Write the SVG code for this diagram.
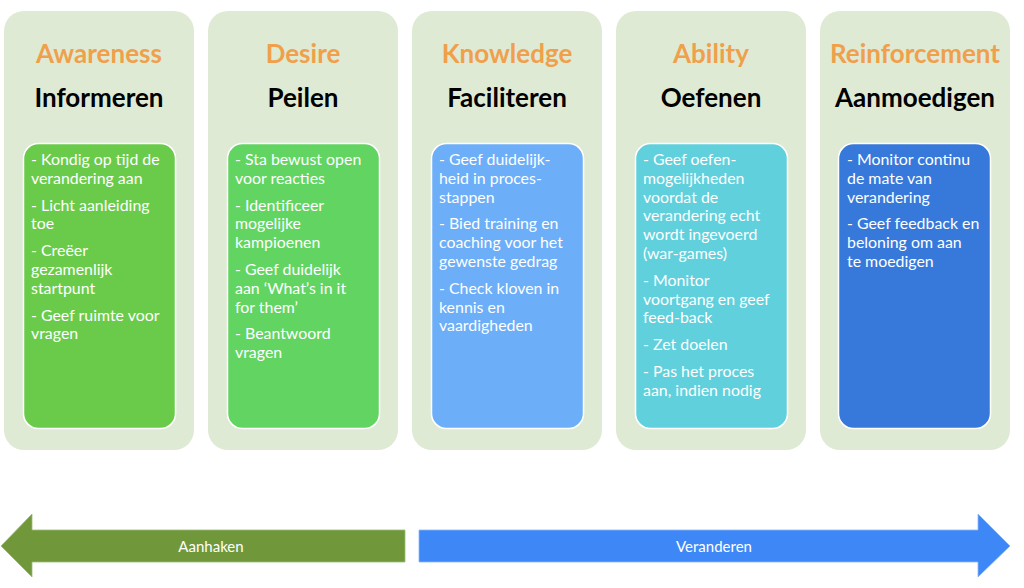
<svg xmlns="http://www.w3.org/2000/svg" width="1024" height="588" viewBox="0 0 1024 588">
<style>
.outer{fill:#DFEAD4}
.inner{stroke:#FFFFFF;stroke-width:1.5}
.t1{font-family:Lato,"Open Sans",sans-serif;font-weight:700;font-size:26px;fill:#F0A04B;text-anchor:middle}
.t2{font-family:Lato,"Open Sans",sans-serif;font-weight:700;font-size:26px;fill:#000000;text-anchor:middle}
.body{font-family:Lato,"Open Sans",sans-serif;font-size:15.9px;fill:#FFFFFF}
.lbl{font-family:Lato,"Open Sans",sans-serif;font-size:15px;fill:#FFFFFF;text-anchor:middle}
</style>
<rect width="1024" height="588" fill="#FFFFFF"/>
<g id="awareness">
<rect class="outer" x="4" y="11" width="190" height="439" rx="20"/>
<text class="t1" x="99" y="63">Awareness</text>
<text class="t2" x="99" y="107">Informeren</text>
<rect class="inner" x="23.5" y="143.5" width="152" height="285" rx="15" fill="#6ACB4B"/>
<text class="body" y="165"><tspan x="31">- Kondig op tijd de</tspan><tspan x="31" dy="18.8">verandering aan</tspan><tspan x="31" dy="26.8">- Licht aanleiding</tspan><tspan x="31" dy="18.8">toe</tspan><tspan x="31" dy="26.8">- Creëer</tspan><tspan x="31" dy="18.8">gezamenlijk</tspan><tspan x="31" dy="18.8">startpunt</tspan><tspan x="31" dy="26.8">- Geef ruimte voor</tspan><tspan x="31" dy="18.8">vragen</tspan></text>
</g>
<g id="desire">
<rect class="outer" x="208" y="11" width="190" height="439" rx="20"/>
<text class="t1" x="303" y="63">Desire</text>
<text class="t2" x="303" y="107">Peilen</text>
<rect class="inner" x="227.5" y="143.5" width="152" height="285" rx="15" fill="#62D462"/>
<text class="body" y="165"><tspan x="235">- Sta bewust open</tspan><tspan x="235" dy="18.8">voor reacties</tspan><tspan x="235" dy="26.8">- Identificeer</tspan><tspan x="235" dy="18.8">mogelijke</tspan><tspan x="235" dy="18.8">kampioenen</tspan><tspan x="235" dy="26.8">- Geef duidelijk</tspan><tspan x="235" dy="18.8">aan ‘What’s in it</tspan><tspan x="235" dy="18.8">for them’</tspan><tspan x="235" dy="26.8">- Beantwoord</tspan><tspan x="235" dy="18.8">vragen</tspan></text>
</g>
<g id="knowledge">
<rect class="outer" x="412" y="11" width="190" height="439" rx="20"/>
<text class="t1" x="507" y="63">Knowledge</text>
<text class="t2" x="507" y="107">Faciliteren</text>
<rect class="inner" x="431.5" y="143.5" width="152" height="285" rx="15" fill="#6CAEF7"/>
<text class="body" y="165"><tspan x="439">- Geef duidelijk-</tspan><tspan x="439" dy="18.8">heid in proces-</tspan><tspan x="439" dy="18.8">stappen</tspan><tspan x="439" dy="26.8">- Bied training en</tspan><tspan x="439" dy="18.8">coaching voor het</tspan><tspan x="439" dy="18.8">gewenste gedrag</tspan><tspan x="439" dy="26.8">- Check kloven in</tspan><tspan x="439" dy="18.8">kennis en</tspan><tspan x="439" dy="18.8">vaardigheden</tspan></text>
</g>
<g id="ability">
<rect class="outer" x="616" y="11" width="190" height="439" rx="20"/>
<text class="t1" x="711" y="63">Ability</text>
<text class="t2" x="711" y="107">Oefenen</text>
<rect class="inner" x="635.5" y="143.5" width="152" height="285" rx="15" fill="#5FD0DC"/>
<text class="body" y="165"><tspan x="643">- Geef oefen-</tspan><tspan x="643" dy="18.8">mogelijkheden</tspan><tspan x="643" dy="18.8">voordat de</tspan><tspan x="643" dy="18.8">verandering echt</tspan><tspan x="643" dy="18.8">wordt ingevoerd</tspan><tspan x="643" dy="18.8">(war-games)</tspan><tspan x="643" dy="26.8">- Monitor</tspan><tspan x="643" dy="18.8">voortgang en geef</tspan><tspan x="643" dy="18.8">feed-back</tspan><tspan x="643" dy="26.8">- Zet doelen</tspan><tspan x="643" dy="26.8">- Pas het proces</tspan><tspan x="643" dy="18.8">aan, indien nodig</tspan></text>
</g>
<g id="reinforcement">
<rect class="outer" x="820" y="11" width="190" height="439" rx="20"/>
<text class="t1" x="915" y="63">Reinforcement</text>
<text class="t2" x="915" y="107">Aanmoedigen</text>
<rect class="inner" x="838.5" y="143.5" width="152" height="285" rx="15" fill="#3679DB"/>
<text class="body" y="165"><tspan x="847">- Monitor continu</tspan><tspan x="847" dy="18.8">de mate van</tspan><tspan x="847" dy="18.8">verandering</tspan><tspan x="847" dy="26.8">- Geef feedback en</tspan><tspan x="847" dy="18.8">beloning om aan</tspan><tspan x="847" dy="18.8">te moedigen</tspan></text>
</g>
<g id="connectors">
<g id="aanhaken">
<polygon points="1,546 32,514 32,530 405,530 405,562 32,562 32,577" fill="#70983B" stroke="#9BBB77" stroke-width="0.8"/>
<text class="lbl" x="211" y="552">Aanhaken</text>
</g>
<g id="veranderen">
<polygon points="419,530 978,530 978,514 1010,546 978,577 978,562 419,562" fill="#3E87F6" stroke="#8AB6F8" stroke-width="0.8"/>
<text class="lbl" x="714" y="552">Veranderen</text>
</g>
</g>
</svg>
